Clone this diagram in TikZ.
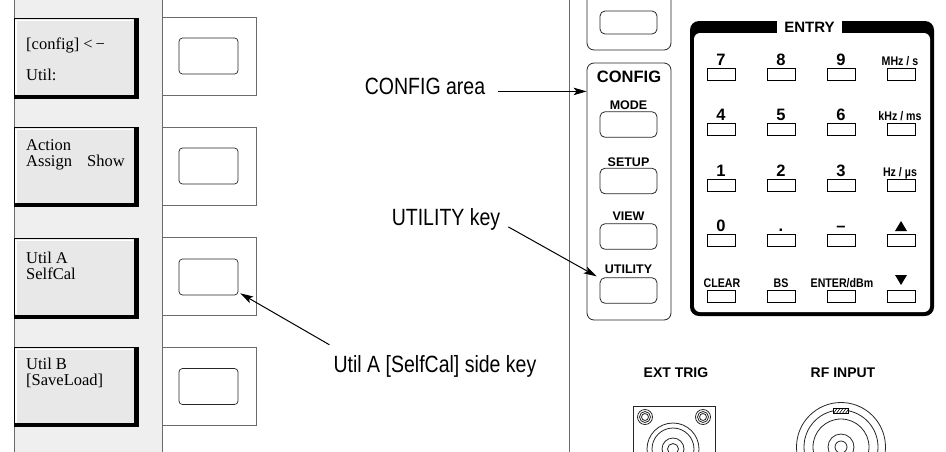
\documentclass[tikz,border=0pt]{standalone}
\usepackage{fontspec}
\setmainfont{Liberation Serif}
\newfontfamily\annfont[FakeStretch=0.83]{Liberation Sans}
\newfontfamily\panelfont{Liberation Sans}
\newfontfamily\condfont[FakeStretch=0.85]{Liberation Sans}
\usetikzlibrary{arrows.meta}
\definecolor{panelgray}{HTML}{EFEFEF}
\definecolor{btngray}{HTML}{E8E8E8}
\definecolor{linegray}{HTML}{6A6A6A}
\begin{document}
\begin{tikzpicture}[x=1pt,y=-1pt,
  panelline/.style={draw=linegray, line width=0.9pt},
  softkey/.style={draw=black, line width=0.7pt, fill=btngray, minimum width=124pt, minimum height=79.5pt, inner sep=0pt, outer sep=0pt,
    path picture={
      \fill[black] ([xshift=-4.5pt]path picture bounding box.north east) rectangle (path picture bounding box.south east);
      \fill[black] (path picture bounding box.south west) rectangle ([yshift=3.5pt]path picture bounding box.south east);
      \draw[white, line width=1.4pt] ([xshift=2pt,yshift=4pt]path picture bounding box.south west) -- ([xshift=2pt,yshift=-2pt]path picture bounding box.north west) -- ([xshift=-5pt,yshift=-2pt]path picture bounding box.north east);
    }},
  sklabel/.style={anchor=base west, inner sep=0pt, font=\fontsize{16.5}{18}\selectfont},
  sideframe/.style={draw=linegray, line width=0.8pt, fill=white, minimum width=94pt, minimum height=78pt, inner sep=0pt},
  sideinner/.style={draw=black!85, line width=0.7pt, rounded corners=3.5pt, minimum width=59pt, minimum height=36pt, inner sep=0pt},
  cfgkey/.style={draw=black!85, line width=0.8pt, rounded corners=5pt, minimum width=57pt, minimum height=25.5pt, inner sep=0pt},
  cfglabel/.style={anchor=base, inner sep=0pt, font=\panelfont\bfseries\fontsize{12.5}{14}\selectfont},
  entkey/.style={draw=black, line width=0.7pt, minimum width=28pt, minimum height=12pt, inner sep=0pt},
  digit/.style={anchor=base, inner sep=0pt, font=\panelfont\bfseries\fontsize{16.5}{18}\selectfont},
  unitlab/.style={anchor=base, inner sep=0pt, font=\condfont\bfseries\fontsize{12.5}{14}\selectfont},
  conlabel/.style={anchor=base, inner sep=0pt, font=\panelfont\bfseries\fontsize{14}{16}\selectfont},
  ann/.style={inner sep=0pt, font=\annfont\fontsize{23.5}{26}\selectfont},
  arr/.style={-{Stealth[length=13pt,width=7.5pt,inset=3pt]}, line width=1pt, draw=black},
  ring/.style={draw=black!85, line width=0.8pt}
]
\useasboundingbox (0,0) rectangle (946,451);
\clip (0,0) rectangle (946,451);

% ---------- left panel ----------
\fill[panelgray] (14,-1) rectangle (162,452);
\draw[panelline] (14,-1) -- (14,452);
\draw[panelline] (162,-1) -- (162,452);

\node[softkey] (sk1) at (76,58.5) {};
\node[softkey] (sk2) at (76,167) {};
\node[softkey] (sk3) at (76,278.5) {};
\node[softkey] (sk4) at (76,387) {};

\node[sklabel] (t1a) at (26,49) {[config] <\,−};
\node[sklabel] (t1b) at (26,80) {Util:};
\node[sklabel] (t2a) at (26,150) {Action};
\node[sklabel] (t2b) at (26,166) {Assign};
\node[sklabel] (t2c) at (87,166) {Show};
\node[sklabel] (t3a) at (26,263) {Util A};
\node[sklabel] (t3b) at (26,279) {SelfCal};
\node[sklabel] (t4a) at (26,369) {Util B};
\node[sklabel] (t4b) at (26,385) {[SaveLoad]};

\node[sideframe] (sf1) at (209,56) {};
\node[sideframe] (sf2) at (209,166) {};
\node[sideframe] (sf3) at (209,276.5) {};
\node[sideframe] (sf4) at (209,386) {};
\node[sideinner] (si1) at (208.5,56) {};
\node[sideinner] (si2) at (208.5,166) {};
\node[sideinner] (si3) at (208.5,277) {};
\node[sideinner] (si4) at (208.5,386.5) {};

% ---------- right panel ----------
\draw[panelline] (569,-1) -- (569,452);
\draw[draw=black!85, line width=0.8pt, rounded corners=7pt] (587,-5) -- (587,50) -- (671,50) -- (671,-5);
\node[cfgkey, minimum height=23pt] (topkey) at (628.5,22.5) {};

\node[draw=black!85, line width=0.8pt, rounded corners=7pt, minimum width=84pt, minimum height=257pt, inner sep=0pt] (cfggroup) at (629,191.5) {};
\node[anchor=base, inner sep=0pt, font=\panelfont\bfseries\fontsize{16.5}{18}\selectfont] (cfgtitle) at (629,82) {CONFIG};
\node[cfglabel] (lmode) at (628.5,109) {MODE};
\node[cfgkey] (modekey) at (628.5,124.5) {};
\node[cfglabel] (lsetup) at (628.5,166) {SETUP};
\node[cfgkey] (setupkey) at (628.5,181) {};
\node[cfglabel] (lview) at (628.5,220) {VIEW};
\node[cfgkey] (viewkey) at (628.5,236.5) {};
\node[cfglabel] (lutil) at (628.5,273) {UTILITY};
\node[cfgkey] (utilkey) at (628.5,290.5) {};

% ---------- ENTRY panel ----------
\fill[black, rounded corners=9pt] (690,21) rectangle (934,316);
\fill[white, rounded corners=6pt] (694,33) rectangle (930,312);
\fill[white] (777,18) rectangle (842,33.5);
\node[anchor=base, inner sep=0pt, font=\panelfont\bfseries\fontsize{15}{17}\selectfont] (entrytitle) at (809.5,32) {ENTRY};

% row 1
\node[entkey] (k7) at (721,74) {};
\node[entkey] (k8) at (781,74) {};
\node[entkey] (k9) at (841,74) {};
\node[entkey] (kmhz) at (901,74) {};
\node[digit] (l7) at (721,65) {7};
\node[digit] (l8) at (781,65) {8};
\node[digit] (l9) at (841,65) {9};
\node[unitlab] (lmhz) at (900,65) {MHz / s};
% row 2
\node[entkey] (k4) at (721,129) {};
\node[entkey] (k5) at (781,129) {};
\node[entkey] (k6) at (841,129) {};
\node[entkey] (kkhz) at (901,129) {};
\node[digit] (l4) at (721,120) {4};
\node[digit] (l5) at (781,120) {5};
\node[digit] (l6) at (841,120) {6};
\node[unitlab] (lkhz) at (900,120) {kHz / ms};
% row 3
\node[entkey] (k1) at (721,185) {};
\node[entkey] (k2) at (781,185) {};
\node[entkey] (k3) at (841,185) {};
\node[entkey] (khz) at (901,185) {};
\node[digit] (l1) at (721,176) {1};
\node[digit] (l2) at (781,176) {2};
\node[digit] (l3) at (841,176) {3};
\node[unitlab] (lhz) at (900,176) {Hz / µs};
% row 4
\node[entkey] (k0) at (721,240) {};
\node[entkey] (kdot) at (781,240) {};
\node[entkey] (kminus) at (841,240) {};
\node[entkey] (kup) at (901,240) {};
\node[digit] (l0) at (721,231) {0};
\node[digit] (ldot) at (781,231) {.};
\node[digit] (lminus) at (841,231) {–};
\fill[black] (895,231) -- (907,231) -- (901,221) -- cycle;
% row 5
\node[entkey] (kclr) at (721,296) {};
\node[entkey] (kbs) at (781,296) {};
\node[entkey] (kent) at (841,296) {};
\node[entkey] (kdown) at (901,296) {};
\node[unitlab] (lclr) at (722,287) {CLEAR};
\node[unitlab] (lbs) at (781,287) {BS};
\node[unitlab] (lent) at (842,287) {ENTER/dBm};
\fill[black] (895,275) -- (907,275) -- (901,285) -- cycle;

% ---------- connectors ----------
\node[conlabel] (lext) at (676,377) {EXT TRIG};
\node[conlabel] (lrf) at (843,377) {RF INPUT};

\draw[ring] (633,460) -- (633,406) -- (715,406) -- (715,460);
\foreach \cx in {645,703}{
  \draw[ring] (\cx,417) circle (7.5pt);
  \draw[ring] (\cx,417) circle (5.5pt);
  \draw[ring] (\cx,417) circle (3.5pt);
}
\foreach \r in {26,21,11,5.5}{
  \draw[ring] (673,449) circle (\r pt);
}
\foreach \r in {44.5,37,28,13,6}{
  \draw[ring] (841,447) circle (\r pt);
}
\fill[white] (833,408) rectangle (848,413.5);
\begin{scope}
  \clip (833,408) rectangle (848,413.5);
  \foreach \dx in {0,3,...,21}{
    \draw[black, line width=0.6pt] (830+\dx,414) -- (835+\dx,407);
  }
\end{scope}
\draw[black, line width=0.6pt] (833,408) rectangle (848,413.5);

% ---------- annotations ----------
\node[ann, anchor=base] (cfgtxt) at (425,94) {CONFIG area};
\draw[arr] ([xshift=13pt,yshift=-5.5pt]cfgtxt.east) -- ([yshift=-5.5pt]cfgtxt.east -| cfggroup.west);

\node[ann, anchor=base] (utiltxt) at (446,225) {UTILITY key};
\draw[arr] ([xshift=8pt,yshift=-8pt]utiltxt.east) -- ([xshift=-3pt,yshift=1pt]utilkey.north west);

\node[ann, anchor=base] (selfcaltxt) at (435,372) {Util A [SelfCal] side key};
\draw[arr] ([xshift=-4pt,yshift=10pt]selfcaltxt.north west) -- ([xshift=2pt,yshift=2pt]si3.south east);
\end{tikzpicture}
\end{document}
